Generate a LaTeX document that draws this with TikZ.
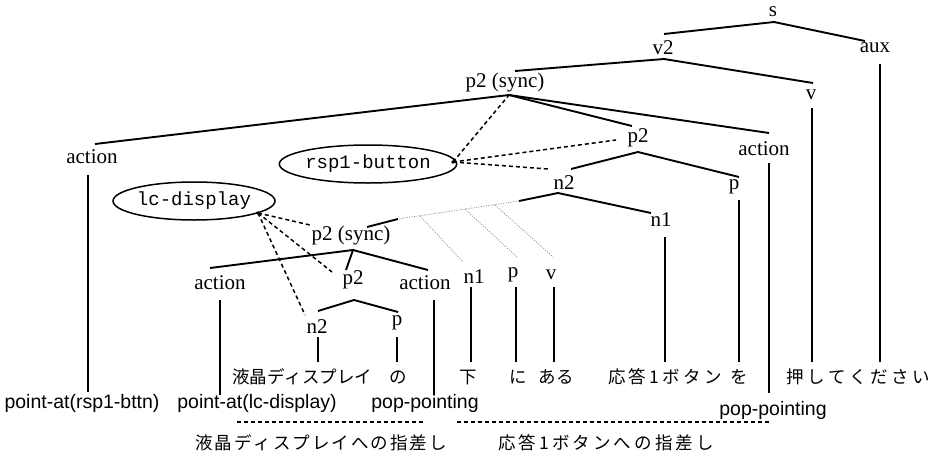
\documentclass[tikz,border=0pt]{standalone}
\usepackage{fontspec}
\setmainfont{Liberation Serif}
\setsansfont{Liberation Sans}
\setmonofont{Liberation Mono}
\newfontfamily\jp{Noto Sans CJK JP}
\usetikzlibrary{shapes.geometric}
\tikzset{
  lbl/.style={inner sep=0pt, font=\fontsize{21}{24}\selectfont},
  term/.style={inner sep=0pt, font=\jp\fontsize{17.5}{20}\selectfont},
  gloss/.style={inner sep=0pt, font=\jp\fontsize{17.5}{20}\selectfont},
  act/.style={inner sep=0pt, font=\sffamily\fontsize{19.5}{22}\selectfont},
  ent/.style={ellipse, draw, line width=1.5pt, minimum width=162pt, minimum height=38pt, inner sep=0pt, font=\ttfamily\fontsize{19}{22}\selectfont},
  br/.style={line width=1.9pt},
  lk/.style={line width=1.5pt, dash pattern=on 4pt off 3pt},
  dt/.style={line width=0.7pt, gray, dash pattern=on 1pt off 1.5pt},
  gl/.style={line width=1.4pt, dash pattern=on 4pt off 3pt},
}
\begin{document}
\begin{tikzpicture}[x=1pt,y=-1pt]
\fill[white] (0,0) rectangle (932,453);
\useasboundingbox (0,0) rectangle (932,453);

% ---------- category labels ----------
\node[lbl] (s)    at (773,12)  {s};
\node[lbl] (v2)   at (663,48)  {v2};
\node[lbl] (aux)  at (875,48)  {aux};
\node[lbl] (ps1)  at (505,82)  {p2 (sync)};
\node[lbl] (v)    at (811,95)  {v};
\node[lbl] (a1)   at (92,157)  {action};
\node[lbl] (pm)   at (638,138) {p2};
\node[lbl] (a2)   at (764,149) {action};
\node[lbl] (nm)   at (564,183) {n2};
\node[lbl] (pp)   at (734,187) {p};
\node[lbl] (n1m)  at (661,220) {n1};
\node[lbl] (ps2)  at (351,235) {p2 (sync)};
\node[lbl] (a3)   at (220,283) {action};
\node[lbl] (pl)   at (353,280) {p2};
\node[lbl] (a4)   at (425,283) {action};
\node[lbl] (n1l)  at (474,277) {n1};
\node[lbl] (pr)   at (513,275) {p};
\node[lbl] (vl)   at (551,275) {v};
\node[lbl] (nl)   at (317,327) {n2};
\node[lbl] (ql)   at (397,323) {p};

% ---------- entities ----------
\node[ent] (rsp) at (368,164) {rsp1-button};
\node[ent] (lcd) at (194,201) {lc-display};

% ---------- words ----------
\node[term] (w1) at (301,377) {\makebox[138pt][s]{液\hfill 晶\hfill デ\hfill ィ\hfill ス\hfill プ\hfill レ\hfill イ}};
\node[term] (w2) at (398,377) {の};
\node[term] (w3) at (468,377) {下};
\node[term] (w4) at (518,377) {に};
\node[term] (w5) at (556,377) {ある};
\node[term] (w6) at (665,377) {\makebox[114pt][s]{応\hfill 答\hfill 1\hfill ボ\hfill タ\hfill ン}};
\node[term] (w7) at (739,377) {を};
\node[term] (w8) at (858,377) {\makebox[143pt][s]{押\hfill し\hfill て\hfill く\hfill だ\hfill さ\hfill い}};

% ---------- gestures ----------
\node[act] (g1) at (82,403)  {point-at(rsp1-bttn)};
\node[act] (g2) at (257,403) {point-at(lc-display)};
\node[act] (g3) at (425,403) {pop-pointing};
\node[act] (g4) at (773,410) {pop-pointing};

\node[gloss] (t1) at (321,443) {\makebox[252pt][s]{液\hfill 晶\hfill デ\hfill ィ\hfill ス\hfill プ\hfill レ\hfill イ\hfill へ\hfill の\hfill 指\hfill 差\hfill し}};
\node[gloss] (t2) at (606,443) {\makebox[216pt][s]{応\hfill 答\hfill 1\hfill ボ\hfill タ\hfill ン\hfill へ\hfill の\hfill 指\hfill 差\hfill し}};

% ---------- branch end points ----------
\coordinate (s-b) at (774,22);   \coordinate (v2-t) at (664,34);  \coordinate (aux-t) at (865,41);
\coordinate (v2-b) at (664,59);  \coordinate (ps1-t) at (515,71); \coordinate (v-t) at (813,83);
\coordinate (ps1-b) at (509,95); \coordinate (a1-t) at (95,144); \coordinate (pm-t) at (632,126); \coordinate (a2-t) at (769,133);
\coordinate (pm-b) at (638,152); \coordinate (nm-t) at (571,169); \coordinate (pp-t) at (739,177);
\coordinate (nm-b) at (558,193); \coordinate (nm-l) at (519,201); \coordinate (n1m-t) at (651,213);
\coordinate (ps2-r) at (398,219); \coordinate (ps2-t) at (367,227);
\coordinate (db1) at (420,216); \coordinate (db1e) at (463,262);
\coordinate (db2) at (465,209); \coordinate (db2e) at (517,257);
\coordinate (db3) at (495,205); \coordinate (db3e) at (553,257);
\coordinate (ps2-b) at (353,250); \coordinate (a3-t) at (210,268); \coordinate (pl-t) at (346,270); \coordinate (a4-t) at (428,270);
\coordinate (pl-b) at (354,300); \coordinate (nl-t) at (318,311); \coordinate (ql-t) at (398,312);

% vertical stems
\coordinate (a1-d) at (88,175);  \coordinate (a1-e) at (88,392);
\coordinate (aux-d) at (880,64); \coordinate (aux-e) at (880,362);
\coordinate (v-d) at (812,108);  \coordinate (v-e) at (812,362);
\coordinate (a2-d) at (769,163); \coordinate (a2-e) at (769,393);
\coordinate (pp-d) at (739,200); \coordinate (pp-e) at (739,362);
\coordinate (n1m-d) at (665,237); \coordinate (n1m-e) at (665,362);
\coordinate (a3-d) at (220,300); \coordinate (a3-e) at (220,395);
\coordinate (a4-d) at (434,300); \coordinate (a4-e) at (434,395);
\coordinate (nl-d) at (318,337); \coordinate (nl-e) at (318,362);
\coordinate (ql-d) at (397,337); \coordinate (ql-e) at (397,362);
\coordinate (n1l-d) at (471,287); \coordinate (n1l-e) at (471,362);
\coordinate (pr-d) at (516,287); \coordinate (pr-e) at (516,362);
\coordinate (vl-d) at (554,287); \coordinate (vl-e) at (554,362);

% link end points
\coordinate (rsp-p) at (453,162); \coordinate (pm-l) at (616,140); \coordinate (nm-x) at (548,169);
\coordinate (lcd-p) at (258,213); \coordinate (ps2-l) at (310,225); \coordinate (pl-l) at (332,272); \coordinate (nl-l) at (305,315);
\coordinate (bd1a) at (237,422); \coordinate (bd1b) at (423,422);
\coordinate (bd2a) at (457,422); \coordinate (bd2b) at (771,422);

% ---------- tree branches ----------
\draw[br] (v2-t) -- (s-b) -- (aux-t);
\draw[br] (ps1-t) -- (v2-b) -- (v-t);
\draw[br] (a1-t) -- (ps1-b) -- (a2-t);
\draw[br] (ps1-b) -- (pm-t);
\draw[br] (nm-t) -- (pm-b) -- (pp-t);
\draw[br] (nm-l) -- (nm-b) -- (n1m-t);
\draw[br] (ps2-t) -- (ps2-r);
\draw[br] (a3-t) -- (ps2-b) -- (a4-t);
\draw[br] (ps2-b) -- (pl-t);
\draw[br] (nl-t) -- (pl-b) -- (ql-t);

\foreach \n in {a1,aux,v,a2,pp,n1m,a3,a4,nl,ql,n1l,pr,vl}
  \draw[br] (\n-d) -- (\n-e);

% ---------- dotted (gray) ----------
\draw[dt] (nm-l) -- (ps2-r);
\draw[dt] (db1) -- (db1e);
\draw[dt] (db2) -- (db2e);
\draw[dt] (db3) -- (db3e);

% ---------- dashed links ----------
\draw[lk] (rsp-p) -- (ps1-b);
\draw[lk] (rsp-p) -- (pm-l);
\draw[lk] (rsp-p) -- (nm-x);
\fill (rsp-p) circle (1.8pt);
\draw[lk] (lcd-p) -- (ps2-l);
\draw[lk] (lcd-p) -- (pl-l);
\draw[lk] (lcd-p) -- (nl-l);
\fill (lcd-p) circle (1.8pt);

\draw[gl] (bd1a) -- (bd1b);
\draw[gl] (bd2a) -- (bd2b);
\end{tikzpicture}
\end{document}
